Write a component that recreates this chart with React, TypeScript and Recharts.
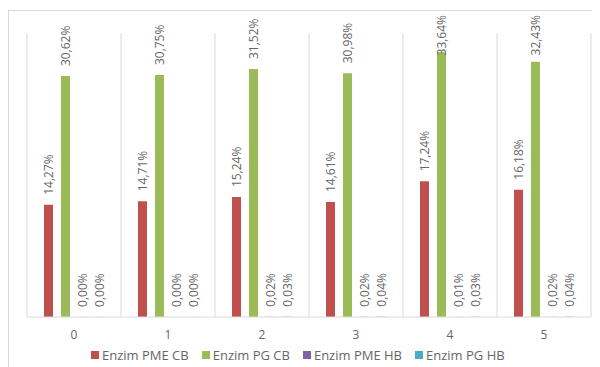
import React from "react";
import {
  Bar,
  BarChart,
  CartesianGrid,
  LabelList,
  Legend,
  XAxis,
  YAxis,
} from "recharts";

// Sampling days
const days = ["0", "1", "2", "3", "4", "5"];

// Enzyme activity, in percent
const pmeCB = [14.27, 14.71, 15.24, 14.61, 17.24, 16.18];
const pgCB = [30.62, 30.75, 31.52, 30.98, 33.64, 32.43];
const pmeHB = [0.0, 0.0, 0.02, 0.02, 0.01, 0.02];
const pgHB = [0.0, 0.0, 0.03, 0.04, 0.03, 0.04];

const seriesNames = ["Enzim PME CB", "Enzim PG CB", "Enzim PME HB", "Enzim PG HB"];
const seriesKeys = ["pmeCB", "pgCB", "pmeHB", "pgHB"];
const seriesColors = ["#C0504D", "#9BBB59", "#8064A2", "#4BACC6"];

const chartData = days.map((day, i) => ({
  day,
  pmeCB: pmeCB[i],
  pgCB: pgCB[i],
  pmeHB: pmeHB[i],
  pgHB: pgHB[i],
}));

const FONT = "'Open Sans', sans-serif";
const FONT_SIZE = 12;
const LEGEND_FONT_SIZE = 13;
const TEXT_COLOR = "#666666";
const LINE_COLOR = "#D9D9D9";
const LABEL_GAP = 10;
const LABEL_TOP_LIMIT = 7;

const formatPercent = (v: number) => v.toFixed(2).replace(".", ",") + "%";

let measureCtx: CanvasRenderingContext2D | null = null;
const textWidth = (s: string) => {
  if (!measureCtx) {
    measureCtx = document.createElement("canvas").getContext("2d");
  }
  if (!measureCtx) return s.length * 6.5;
  measureCtx.font = `${FONT_SIZE}px 'Open Sans'`;
  return measureCtx.measureText(s).width;
};

// Rotated value label sitting above the bar, kept inside the chart area
const renderValueLabel = (props: any) => {
  const x = Number(props.x);
  const y = Number(props.y);
  const width = Number(props.width);
  const text = formatPercent(Number(props.value));
  const cx = x + width / 2;
  const base = Math.max(y - LABEL_GAP, LABEL_TOP_LIMIT + textWidth(text));
  return (
    <text
      x={cx}
      y={base}
      transform={`rotate(-90 ${cx} ${base})`}
      textAnchor="start"
      dominantBaseline="central"
      fill={TEXT_COLOR}
      fontSize={FONT_SIZE}
      fontFamily={FONT}
    >
      {text}
    </text>
  );
};

const renderLegend = () => (
  <div
    style={{
      display: "flex",
      alignItems: "center",
      height: 20,
      paddingLeft: 64,
      fontFamily: FONT,
      fontSize: LEGEND_FONT_SIZE,
      color: TEXT_COLOR,
      whiteSpace: "nowrap",
    }}
  >
    {seriesNames.map((name, i) => (
      <div key={name} style={{ display: "flex", alignItems: "center", marginRight: 13 }}>
        <span
          style={{
            display: "inline-block",
            width: 8,
            height: 8,
            background: seriesColors[i],
            marginRight: 3,
          }}
        />
        <span>{name}</span>
      </div>
    ))}
  </div>
);

export default function App() {
  return (
    <div style={{ position: "relative", width: 590, height: 359 }}>
      <div
        style={{
          position: "absolute",
          top: 2,
          left: 0,
          width: 590,
          height: 357,
          borderTop: `1px solid ${LINE_COLOR}`,
          borderLeft: `1px solid ${LINE_COLOR}`,
          boxSizing: "border-box",
        }}
      />
      <BarChart
        width={590}
        height={359}
        data={chartData}
        margin={{ top: 25, right: 7, left: 19, bottom: 2 }}
        barCategoryGap={17}
        barGap={8}
        style={{ position: "absolute", top: 0, left: 0 }}
      >
        <CartesianGrid
          horizontal={false}
          stroke={LINE_COLOR}
          verticalCoordinatesGenerator={({ offset }: any) =>
            days
              .map((_, i) => offset.left + (i * offset.width) / days.length)
              .concat(offset.left + offset.width)
          }
        />
        <XAxis
          dataKey="day"
          height={28}
          axisLine={{ stroke: LINE_COLOR }}
          tickLine={false}
          tickMargin={7}
          tick={{ fill: TEXT_COLOR, fontSize: FONT_SIZE, fontFamily: FONT }}
        />
        <YAxis hide domain={[0, 36.1]} />
        <Legend verticalAlign="bottom" content={renderLegend} />
        {seriesKeys.map((key, i) => (
          <Bar
            key={key}
            dataKey={key}
            name={seriesNames[i]}
            fill={seriesColors[i]}
            minPointSize={0.05}
            isAnimationActive={false}
          >
            <LabelList dataKey={key} content={renderValueLabel} />
          </Bar>
        ))}
      </BarChart>
    </div>
  );
}
